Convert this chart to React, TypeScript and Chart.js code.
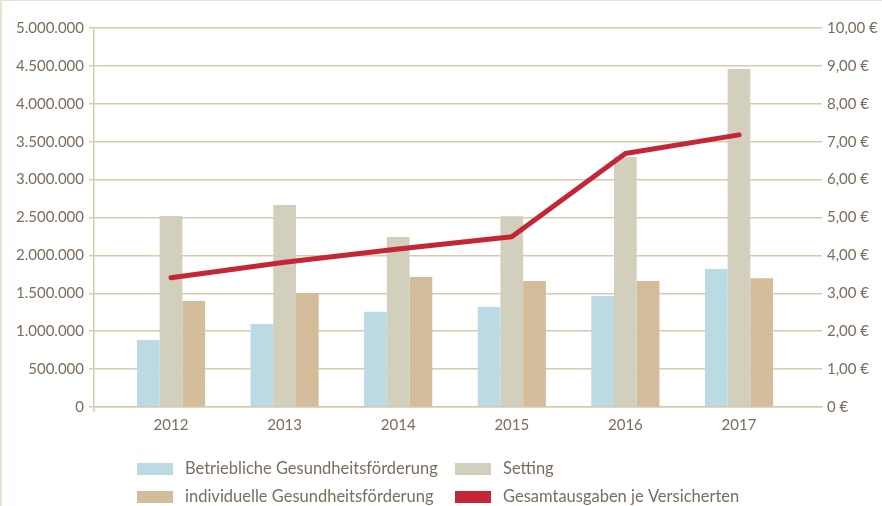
import { useEffect, useRef } from 'react';
import { Chart, registerables } from 'chart.js';

Chart.register(...registerables);

// ---- data ----
const categories = ['2012', '2013', '2014', '2015', '2016', '2017'];
const betrieblich = [884000, 1095000, 1257000, 1319000, 1464000, 1820000];
const setting = [2520000, 2665000, 2243000, 2515000, 3298000, 4459000];
const individuell = [1398000, 1504000, 1715000, 1662000, 1662000, 1700000];
const jeVersicherten = [3.41, 3.82, 4.17, 4.49, 6.69, 7.18];
const seriesLabels = [
  'Betriebliche Gesundheitsförderung',
  'Setting',
  'individuelle Gesundheitsförderung',
  'Gesamtausgaben je Versicherten',
];
const leftMax = 5000000;
const leftStep = 500000;
const rightMax = 10;
const rightStep = 1;

// ---- styles ----
const textColor = '#7a6d5d';
const gridColor = '#dac9ad';
const colors = ['#bcdae3', '#d2d0bc', '#d3bc99', '#c42636'];
const fontFamily = 'Lato, "Open Sans", sans-serif';
const xMin = -0.678;
const xMax = 5.731;

const fmtThousands = (v: number) =>
  String(Math.round(v)).replace(/\B(?=(\d{3})+(?!\d))/g, '.');
const fmtEuro = (v: number) =>
  v === 0 ? '0 €' : v.toFixed(2).replace('.', ',') + ' €';

const gridLegend = {
  id: 'gridLegend',
  afterDraw(chart: any) {
    const ctx = chart.ctx;
    const cols = [135, 453];
    const rows = [468, 496];
    const ds = chart.data.datasets;
    ctx.save();
    // small extension of the left axis line below the zero line
    const a = chart.chartArea;
    ctx.strokeStyle = gridColor;
    ctx.lineWidth = 1.5;
    ctx.beginPath();
    ctx.moveTo(a.left, a.bottom);
    ctx.lineTo(a.left, a.bottom + 5);
    ctx.stroke();

    ctx.font = `16.5px ${fontFamily}`;
    ctx.textBaseline = 'middle';
    ctx.textAlign = 'left';
    ds.forEach((d: any, i: number) => {
      const cx = cols[i % 2];
      const cy = rows[Math.floor(i / 2)];
      ctx.fillStyle = d.legendColor;
      ctx.fillRect(cx, cy - 6, 36, 12);
      ctx.fillStyle = textColor;
      ctx.fillText(d.label, cx + 48, cy);
    });
    ctx.restore();
  },
};

export default function App() {
  const ref = useRef<HTMLCanvasElement | null>(null);

  useEffect(() => {
    if (!ref.current) return;
    const toPts = (arr: number[]) => arr.map((y, i) => ({ x: i, y }));
    const barDs = (label: string, values: number[], color: string) =>
      ({
        type: 'bar',
        label,
        data: toPts(values),
        backgroundColor: color,
        legendColor: color,
        yAxisID: 'y',
        order: 1,
        categoryPercentage: 0.6,
        barPercentage: 1,
      } as any);
    const chart = new Chart(ref.current, {
      type: 'bar',
      data: {
        datasets: [
          barDs(seriesLabels[0], betrieblich, colors[0]),
          barDs(seriesLabels[1], setting, colors[1]),
          barDs(seriesLabels[2], individuell, colors[2]),
          {
            type: 'line',
            label: seriesLabels[3],
            data: toPts(jeVersicherten),
            borderColor: colors[3],
            legendColor: colors[3],
            borderWidth: 5,
            borderCapStyle: 'round',
            borderJoinStyle: 'round',
            pointRadius: 0,
            tension: 0,
            yAxisID: 'y1',
            order: 0,
          } as any,
        ],
      },
      options: {
        animation: false,
        responsive: true,
        maintainAspectRatio: false,
        layout: { padding: { top: 27, left: 0, right: 0, bottom: 0 } },
        plugins: {
          legend: { display: false },
          tooltip: { enabled: false },
        },
        scales: {
          x: {
            type: 'linear',
            offset: false,
            min: xMin,
            max: xMax,
            afterBuildTicks: (axis: any) => {
              axis.ticks = categories.map((_, i) => ({ value: i }));
            },
            afterFit: (axis: any) => {
              axis.height = 99;
            },
            ticks: {
              color: textColor,
              font: { family: fontFamily, size: 15 },
              padding: 4,
              autoSkip: false,
              maxRotation: 0,
              callback: (v: any) => {
                const i = Number(v);
                return Number.isInteger(i) && categories[i] ? categories[i] : '';
              },
            },
            grid: {
              display: false,
              drawOnChartArea: false,
              drawTicks: true,
              tickLength: 5,
            },
            border: { display: true, color: gridColor, width: 1.5 },
          },
          y: {
            type: 'linear',
            position: 'left',
            min: 0,
            max: leftMax,
            afterFit: (axis: any) => {
              axis.width = 92;
            },
            ticks: {
              stepSize: leftStep,
              color: textColor,
              font: { family: fontFamily, size: 15 },
              padding: 5,
              callback: (v: any) => fmtThousands(Number(v)),
            },
            grid: {
              color: gridColor,
              lineWidth: 1.5,
              drawTicks: true,
              tickLength: 5,
            },
            border: { display: true, color: gridColor, width: 1.5 },
          },
          y1: {
            type: 'linear',
            position: 'right',
            min: 0,
            max: rightMax,
            afterFit: (axis: any) => {
              axis.width = 60;
            },
            ticks: {
              stepSize: rightStep,
              color: textColor,
              font: { family: fontFamily, size: 15 },
              padding: 5,
              callback: (v: any) => fmtEuro(Number(v)),
            },
            grid: { display: false, drawTicks: false, drawOnChartArea: false },
            border: { display: false },
          },
        },
      } as any,
      plugins: [gridLegend],
    });
    return () => chart.destroy();
  }, []);

  return (
    <div
      style={{
        position: 'absolute',
        left: 0,
        top: 0,
        width: 882,
        height: 506,
        boxSizing: 'border-box',
        borderTop: '1px solid #e6e2d4',
        borderLeft: '2px solid #e6e2d4',
        background: '#ffffff',
      }}
    >
      <div style={{ position: 'relative', width: 880, height: 505 }}>
        <canvas ref={ref} />
      </div>
    </div>
  );
}
